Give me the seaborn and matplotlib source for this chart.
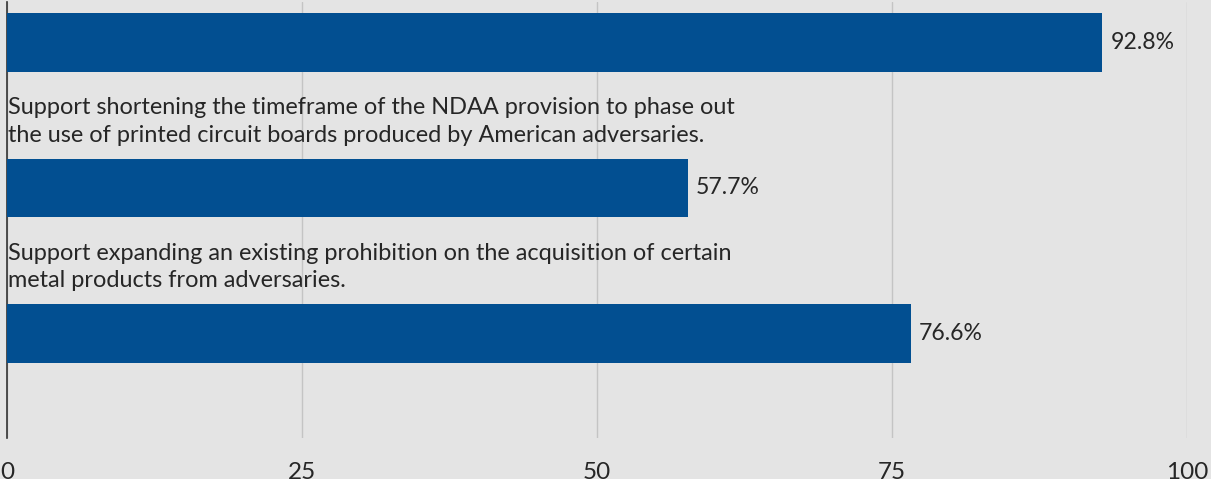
import matplotlib
matplotlib.use('Agg')
import matplotlib.pyplot as plt
import seaborn as sns
import pandas as pd

# survey items (first label is cut off at the top of the frame)
labels = [
    'Support prohibiting the procurement of key components\nfrom supply chains controlled by adversary nations.',
    'Support shortening the timeframe of the NDAA provision to phase out\nthe use of printed circuit boards produced by American adversaries.',
    'Support expanding an existing prohibition on the acquisition of certain\nmetal products from adversaries.',
]
values = [92.8, 57.7, 76.6]
ticks = [0, 25, 50, 75, 100]

bar_color = '#024f91'
bg = '#e4e4e4'
text_color = '#262626'

sns.set_theme(style='white')
plt.rcParams['font.family'] = ['Lato', 'DejaVu Sans']

df = pd.DataFrame({'item': labels, 'pct': values})

fig = plt.figure(figsize=(12.11, 4.79), dpi=100, facecolor=bg)
ax = fig.add_axes([7 / 1211, 41 / 479, 1180 / 1211, 436 / 479])
ax.set_facecolor(bg)

sns.barplot(data=df, x='pct', y='item', orient='h', color=bar_color,
            width=0.405, saturation=1, linewidth=0, ax=ax, zorder=3)

ax.set_xlim(0, 100)
ax.set_ylim(2.718, -0.278)
ax.set_xticks(ticks)
ax.set_xticklabels([str(t) for t in ticks], fontsize=17.5, color=text_color)
ax.tick_params(axis='x', length=0, pad=17)
ax.set_yticks([])
ax.set_xlabel('')
ax.set_ylabel('')
ax.grid(axis='x', color='#c4c4c4', linewidth=1, zorder=0)

for s in ['top', 'right', 'bottom']:
    ax.spines[s].set_visible(False)
ax.spines['left'].set_color('#333333')
ax.spines['left'].set_linewidth(1.2)

for i, (lab, v) in enumerate(zip(labels, values)):
    ax.text(0.05, i - 0.29, lab, ha='left', va='bottom', fontsize=16.9,
            color=text_color, linespacing=1.38, clip_on=False, zorder=4)
    ax.text(v + 0.7, i, f'{v}%', ha='left', va='center', fontsize=16.6,
            color=text_color, zorder=4)

fig.savefig('out.png', dpi=100, facecolor=bg)
